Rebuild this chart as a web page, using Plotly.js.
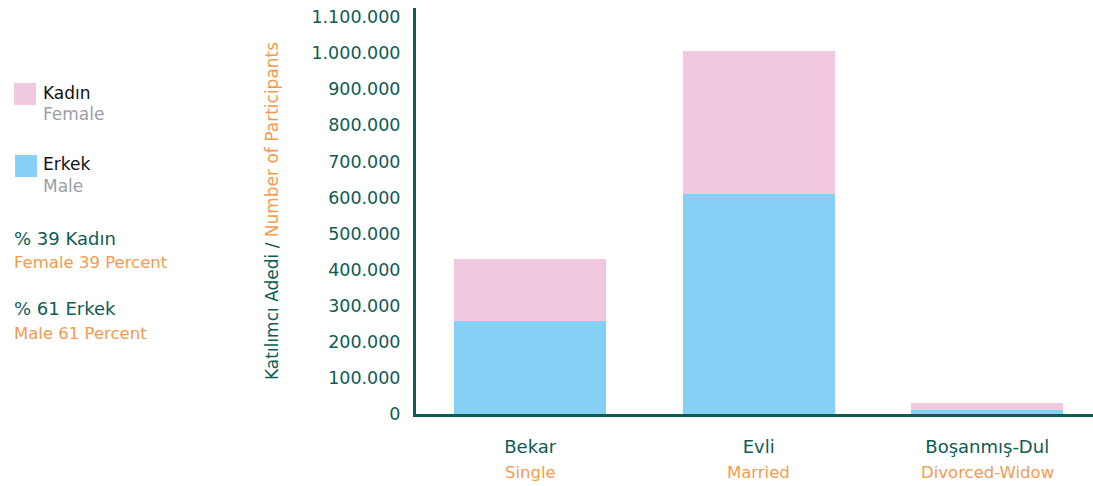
<!DOCTYPE html>
<html><head><meta charset="utf-8">
<script src="https://cdn.plot.ly/plotly-3.0.1.min.js"></script>
<style>html,body{margin:0;padding:0;background:#fff}#c{width:1093px;height:486px}</style>
</head><body><div id="c"></div>
<script>
const categories = ["Bekar", "Evli", "Boşanmış-Dul"];
const categoriesEn = ["Single", "Married", "Divorced-Widow"];
const maleValues = [257000, 609000, 11000];
const femaleValues = [172000, 396000, 19500];
const yTickVals = [0,100000,200000,300000,400000,500000,600000,700000,800000,900000,1000000,1100000];

const TEAL = "#0e5c56", ORANGE = "#f59a4f", PINK = "#f2c7e0", BLUE = "#85d0f5", GREY = "#9aa0a6";
const FONT = "DejaVu Sans, Verdana, sans-serif";
const L = 416, R = 1093, T = 8, B = 414;
const px = x => (x - L) / (R - L);
const py = y => (B - y) / (B - T);

const traces = [
  {type: "bar", x: categories, y: maleValues, name: "Erkek", marker: {color: BLUE}, width: 0.667, showlegend: false, hoverinfo: "y"},
  {type: "bar", x: categories, y: femaleValues, name: "Kadın", marker: {color: PINK}, width: 0.667, showlegend: false, hoverinfo: "y"}
];

const annotations = [];
categoriesEn.forEach((t, i) => annotations.push({
  x: categories[i], xref: "x", y: py(472), yref: "paper", text: t, showarrow: false,
  font: {family: FONT, size: 16.5, color: ORANGE}, xanchor: "center", yanchor: "middle"
}));
annotations.push({
  x: px(272), xref: "paper", y: py(211), yref: "paper", textangle: -90, showarrow: false,
  text: '<span style="color:' + TEAL + '">Katılımcı Adedi / </span><span style="color:' + ORANGE + '">Number of Participants</span>',
  font: {family: FONT, size: 17}, xanchor: "center", yanchor: "middle"
});
const legendTexts = [
  ["Kadın", 93, "#111111"], ["Female", 114, GREY],
  ["Erkek", 164, "#111111"], ["Male", 186, GREY]
];
legendTexts.forEach(([t, y, c]) => annotations.push({
  x: px(41), xref: "paper", y: py(y), yref: "paper", text: t, showarrow: false,
  font: {family: FONT, size: 17, color: c}, xanchor: "left", yanchor: "middle"
}));
const pctTexts = [
  ["% 39 Kadın", 238, TEAL, 18], ["Female 39 Percent", 262, ORANGE, 16.5],
  ["% 61 Erkek", 308, TEAL, 18], ["Male 61 Percent", 333, ORANGE, 16.5]
];
pctTexts.forEach(([t, y, c, s]) => annotations.push({
  x: px(12), xref: "paper", y: py(y), yref: "paper", text: t, showarrow: false,
  font: {family: FONT, size: s, color: c}, xanchor: "left", yanchor: "middle"
}));

const shapes = [
  {type: "rect", xref: "paper", yref: "paper", x0: px(14), x1: px(36), y0: py(105), y1: py(83), fillcolor: PINK, line: {width: 0}},
  {type: "rect", xref: "paper", yref: "paper", x0: px(15), x1: px(37), y0: py(177), y1: py(155), fillcolor: BLUE, line: {width: 0}}
];

const layout = {
  width: 1093, height: 486,
  margin: {l: L, r: 0, t: T, b: 486 - B, pad: 0},
  paper_bgcolor: "#fff", plot_bgcolor: "#fff",
  barmode: "stack",
  separators: ",.",
  font: {family: FONT, color: TEAL, size: 16},
  xaxis: {
    type: "category", range: [-0.5, 2.463], showgrid: false, zeroline: false,
    showline: true, linecolor: TEAL, linewidth: 3,
    ticks: "outside", ticklen: 14, tickcolor: "rgba(0,0,0,0)",
    tickfont: {family: FONT, size: 18, color: TEAL}, fixedrange: true
  },
  yaxis: {
    range: [0, 1125000], tickvals: yTickVals, tickformat: ",d",
    showgrid: false, zeroline: false, showline: true, linecolor: TEAL, linewidth: 3,
    ticks: "outside", ticklen: 9, tickcolor: "rgba(0,0,0,0)",
    tickfont: {family: FONT, size: 17.5, color: TEAL}, fixedrange: true
  },
  annotations: annotations,
  shapes: shapes,
  showlegend: false
};

Plotly.newPlot("c", traces, layout, {displayModeBar: false, staticPlot: true});
</script></body></html>
